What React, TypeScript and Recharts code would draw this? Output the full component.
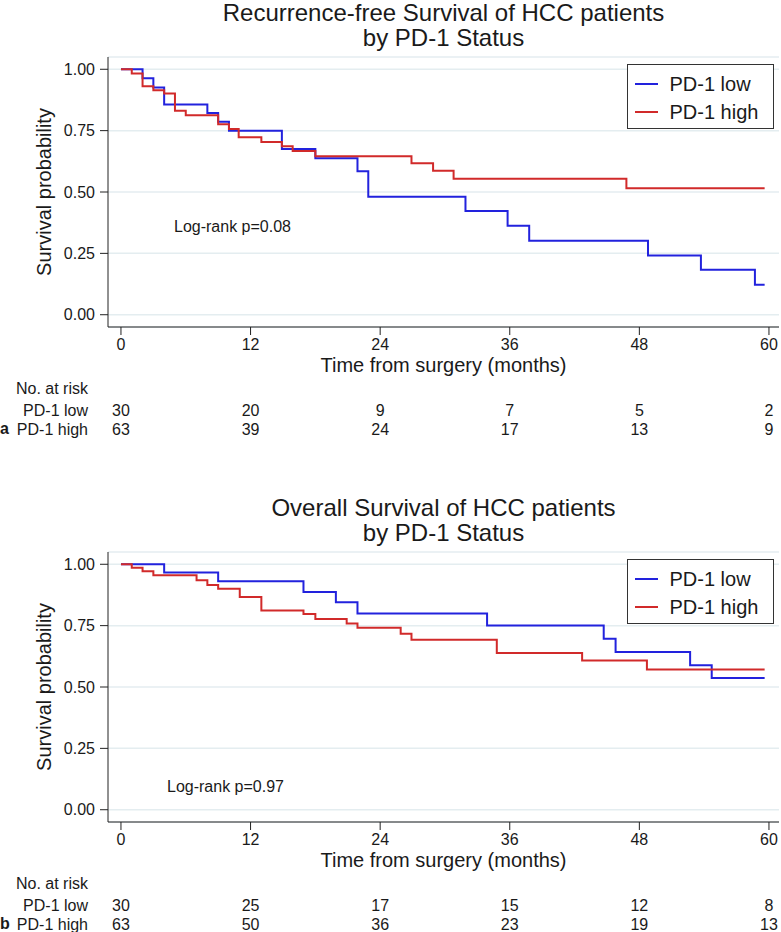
import React from "react";
import { LineChart, Line, XAxis, YAxis, CartesianGrid, Legend } from "recharts";

const FONT = '"Liberation Sans", Arial, Helvetica, sans-serif';
const INK = "#1a1a1a";
const BLUE = "#2222dd";
const RED = "#d12a2a";

// shared axes
const timeTicks = [0, 12, 24, 36, 48, 60];
const survTicks = [0, 0.25, 0.5, 0.75, 1];
const groups = ["PD-1 low", "PD-1 high"];

// recurrence-free survival (months, probability)
const rfsLowTime = [0, 2.0, 3.0, 4.0, 8.0, 9.0, 10.0, 14.9, 18.0, 21.9, 22.9, 31.9, 35.8, 37.8, 48.8, 53.7, 58.7, 59.6];
const rfsLowSurv = [1, 0.963, 0.926, 0.856, 0.822, 0.786, 0.75, 0.675, 0.637, 0.585, 0.481, 0.423, 0.362, 0.301, 0.241, 0.183, 0.122, 0.122];
const rfsHighTime = [0, 1.0, 2.0, 3.0, 4.0, 5.0, 6.0, 9.0, 10.0, 10.9, 13.0, 14.9, 15.9, 18.0, 26.9, 28.9, 30.8, 46.8, 59.6];
const rfsHighSurv = [1, 0.983, 0.931, 0.915, 0.901, 0.831, 0.813, 0.776, 0.757, 0.723, 0.704, 0.686, 0.667, 0.646, 0.617, 0.587, 0.554, 0.515, 0.515];
const rfsRiskLow = [30, 20, 9, 7, 5, 2];
const rfsRiskHigh = [63, 39, 24, 17, 13, 9];

// overall survival
const osLowTime = [0, 4.0, 9.0, 16.9, 19.9, 21.9, 33.9, 44.7, 45.8, 52.7, 54.7, 59.6];
const osLowSurv = [1, 0.966, 0.931, 0.887, 0.845, 0.799, 0.751, 0.697, 0.643, 0.589, 0.537, 0.537];
const osHighTime = [0, 1.0, 2.0, 3.0, 7.0, 8.0, 9.0, 11.0, 13.0, 16.9, 18.0, 20.9, 21.9, 25.9, 26.9, 34.8, 42.7, 48.7, 59.6];
const osHighSurv = [1, 0.986, 0.972, 0.955, 0.935, 0.916, 0.9, 0.867, 0.812, 0.797, 0.777, 0.759, 0.741, 0.717, 0.693, 0.639, 0.608, 0.571, 0.571];
const osRiskLow = [30, 25, 17, 15, 12, 8];
const osRiskHigh = [63, 50, 36, 23, 19, 13];

const X_DOMAIN: [number, number] = [-1.2, 60.93];
const Y_DOMAIN: [number, number] = [-0.05, 1.05];

const toPoints = (t: number[], s: number[]) => t.map((v, i) => ({ t: v, s: s[i] }));

const renderLegend = (props: any) => {
  const { payload = [] } = props;
  const items = groups
    .map((g) => payload.find((p: any) => p.value === g))
    .filter(Boolean);
  return (
    <div
      style={{
        boxSizing: "border-box",
        width: 147,
        height: 65,
        border: "1.5px solid #333",
        background: "#fff",
        padding: "5px 0 0 6.5px",
        fontFamily: FONT,
      }}
    >
      {items.map((e: any) => (
        <div key={e.value} style={{ display: "flex", alignItems: "center", height: 28 }}>
          <span style={{ width: 23, height: 0, borderTop: `2px solid ${e.color}`, marginRight: 12 }} />
          <span style={{ fontSize: 20, color: INK }}>{e.value}</span>
        </div>
      ))}
    </div>
  );
};

type PanelProps = {
  title: string[];
  low: { t: number; s: number }[];
  high: { t: number; s: number }[];
  riskLow: number[];
  riskHigh: number[];
  pText: string;
  pLeft: number;
  pTop: number;
  letter: string;
};

// axis ids are ordered so the stack below the plot is: time axis, header, low row, high row
const AX_TIME = "x0time";
const AX_HDR = "x1hdr";
const AX_LOW = "x2low";
const AX_HIGH = "x3high";

const KMPanel = ({ title, low, high, riskLow, riskHigh, pText, pLeft, pTop, letter }: PanelProps) => {
  const riskFmt = (arr: number[]) => (v: number) => {
    const i = timeTicks.indexOf(v);
    return i >= 0 ? String(arr[i]) : "";
  };
  const riskAxis = {
    dataKey: "t",
    type: "number" as const,
    domain: X_DOMAIN,
    ticks: timeTicks,
    allowDataOverflow: true,
    axisLine: false,
    tickLine: false,
    tickSize: 0,
    interval: 0 as const,
    tick: { fontSize: 16, fill: INK },
  };
  const hidden = {
    dataKey: "s",
    stroke: "none",
    legendType: "none" as const,
    dot: false,
    activeDot: false,
    isAnimationActive: false,
  };
  return (
    <div style={{ position: "relative", width: 781, height: 495 }}>
      <div
        style={{
          position: "absolute",
          left: 108,
          top: 0,
          width: 671,
          textAlign: "center",
          fontSize: 24,
          lineHeight: "25px",
          color: INK,
        }}
      >
        {title.map((l) => (
          <div key={l}>{l}</div>
        ))}
      </div>
      <LineChart width={781} height={445} margin={{ top: 57, right: 2, bottom: 6.5, left: 0 }}>
        <CartesianGrid xAxisId={AX_TIME} vertical={false} stroke="#e4edf0" strokeWidth={1.5} />
        <XAxis
          xAxisId={AX_TIME}
          dataKey="t"
          type="number"
          domain={X_DOMAIN}
          ticks={timeTicks}
          allowDataOverflow
          interval={0}
          height={50}
          tickSize={8}
          tickMargin={4}
          stroke="#222"
          tick={{ fontSize: 16, fill: INK }}
          label={{ value: "Time from surgery (months)", position: "insideBottom", offset: 5, fontSize: 20, fill: INK }}
        />
        <XAxis
          xAxisId={AX_HDR}
          {...riskAxis}
          tick={false}
          height={23.5}
          label={{ value: "No. at risk", position: "left", offset: 20, fontSize: 16, fill: INK }}
        />
        <XAxis
          xAxisId={AX_LOW}
          {...riskAxis}
          height={19}
          tickMargin={4}
          tickFormatter={riskFmt(riskLow)}
          label={{ value: groups[0], position: "left", offset: 20, fontSize: 16, fill: INK }}
        />
        <XAxis
          xAxisId={AX_HIGH}
          {...riskAxis}
          height={19}
          tickMargin={4}
          tickFormatter={riskFmt(riskHigh)}
          label={{ value: groups[1], position: "left", offset: 20, fontSize: 16, fill: INK }}
        />
        <YAxis
          type="number"
          domain={Y_DOMAIN}
          ticks={survTicks}
          allowDataOverflow
          interval={0}
          width={108}
          tickSize={8}
          tickMargin={5}
          stroke="#222"
          tickFormatter={(v: number) => v.toFixed(2)}
          tick={{ fontSize: 16, fill: INK }}
          label={{
            value: "Survival probability",
            angle: -90,
            position: "insideLeft",
            offset: 44,
            fontSize: 20,
            fill: INK,
            style: { textAnchor: "middle" },
          }}
        />
        <Legend
          layout="vertical"
          align="center"
          verticalAlign="middle"
          content={renderLegend}
          wrapperStyle={{ left: 627, top: 64, width: 147 }}
        />
        <Line
          xAxisId={AX_TIME}
          data={low}
          dataKey="s"
          name={groups[0]}
          type="stepAfter"
          stroke={BLUE}
          strokeWidth={2}
          dot={false}
          activeDot={false}
          isAnimationActive={false}
        />
        <Line
          xAxisId={AX_TIME}
          data={high}
          dataKey="s"
          name={groups[1]}
          type="stepAfter"
          stroke={RED}
          strokeWidth={2}
          dot={false}
          activeDot={false}
          isAnimationActive={false}
        />
        {/* invisible series so the risk-table axes get their scales */}
        <Line xAxisId={AX_HDR} data={low} {...hidden} />
        <Line xAxisId={AX_LOW} data={low} {...hidden} />
        <Line xAxisId={AX_HIGH} data={high} {...hidden} />
      </LineChart>
      <div style={{ position: "absolute", left: pLeft, top: pTop, fontSize: 16, lineHeight: "18px", color: INK }}>
        {pText}
      </div>
      <div style={{ position: "absolute", left: 0, top: 420, fontSize: 16, lineHeight: "18px", fontWeight: "bold", color: INK }}>
        {letter}
      </div>
    </div>
  );
};

export default function App() {
  return (
    <div style={{ position: "absolute", left: 0, top: 0, width: 781, height: 932, background: "#fff", fontFamily: FONT }}>
      <KMPanel
        title={["Recurrence-free Survival of HCC patients", "by PD-1 Status"]}
        low={toPoints(rfsLowTime, rfsLowSurv)}
        high={toPoints(rfsHighTime, rfsHighSurv)}
        riskLow={rfsRiskLow}
        riskHigh={rfsRiskHigh}
        pText="Log-rank p=0.08"
        pLeft={174}
        pTop={218}
        letter="a"
      />
      <KMPanel
        title={["Overall Survival of HCC patients", "by PD-1 Status"]}
        low={toPoints(osLowTime, osLowSurv)}
        high={toPoints(osHighTime, osHighSurv)}
        riskLow={osRiskLow}
        riskHigh={osRiskHigh}
        pText="Log-rank p=0.97"
        pLeft={167}
        pTop={283}
        letter="b"
      />
    </div>
  );
}
